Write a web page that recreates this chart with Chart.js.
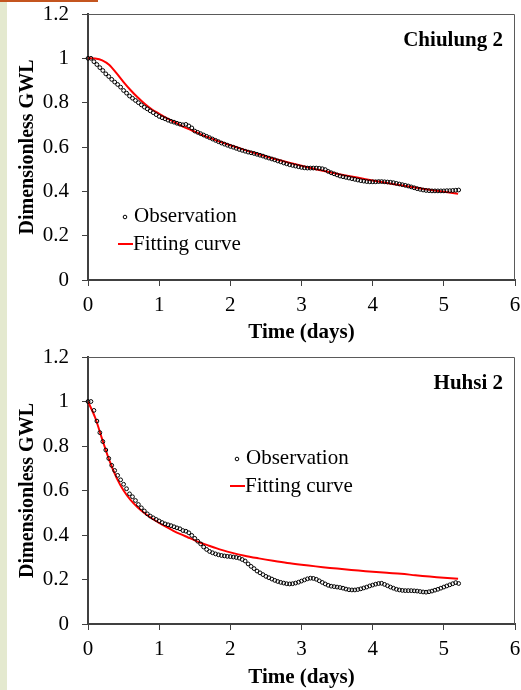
<!DOCTYPE html>
<html>
<head>
<meta charset="utf-8">
<script src="https://cdn.jsdelivr.net/npm/chart.js@4.4.0/dist/chart.umd.min.js"></script>
<style>
  html, body { margin: 0; padding: 0; background: #fff; width: 521px; height: 690px; overflow: hidden; }
  #strip { position: absolute; left: 0; top: 0; width: 7px; height: 690px; background: #e4e9cf; }
  #bar { position: absolute; left: 0; top: 0; width: 98px; height: 2px; background: #c4551f; }
  .panel { position: absolute; left: 0; width: 521px; height: 345px; }
  .panel canvas { display: block; }
</style>
</head>
<body>
<div id="strip"></div>
<div id="bar"></div>
<div class="panel" style="top:0"><canvas id="c1" width="521" height="345"></canvas></div>
<div class="panel" style="top:345px"><canvas id="c2" width="521" height="345"></canvas></div>
<script>
// Hourly observations (one value per hour, starting at day 0)
const SAMPLES_PER_DAY = 24;

const chiulungObs = [
  1.000, 1.000, 0.985, 0.972, 0.958, 0.945, 0.930, 0.918, 0.905, 0.893, 0.882, 0.870,
  0.855, 0.843, 0.830, 0.820, 0.810, 0.800, 0.790, 0.780, 0.772, 0.763, 0.755, 0.746,
  0.738, 0.732, 0.727, 0.721, 0.716, 0.712, 0.707, 0.703, 0.700, 0.702, 0.695, 0.686,
  0.672, 0.666, 0.660, 0.654, 0.648, 0.642, 0.636, 0.630, 0.624, 0.618, 0.613, 0.608,
  0.603, 0.599, 0.594, 0.589, 0.585, 0.581, 0.577, 0.574, 0.571, 0.567, 0.563, 0.559,
  0.554, 0.550, 0.546, 0.542, 0.537, 0.533, 0.528, 0.524, 0.520, 0.517, 0.514, 0.511,
  0.508, 0.506, 0.505, 0.505, 0.505, 0.505, 0.504, 0.502, 0.498, 0.490, 0.484, 0.479,
  0.474, 0.469, 0.466, 0.463, 0.460, 0.457, 0.454, 0.451, 0.448, 0.446, 0.444, 0.443,
  0.443, 0.443, 0.444, 0.444, 0.443, 0.442, 0.441, 0.439, 0.436, 0.433, 0.430, 0.427,
  0.424, 0.420, 0.416, 0.412, 0.409, 0.406, 0.404, 0.403, 0.402, 0.402, 0.402, 0.402,
  0.402, 0.403, 0.403, 0.404, 0.405, 0.406
];

const chiulungFitDays = [0, 0.1, 0.2, 0.3, 0.4, 0.5, 0.6, 0.7, 0.8, 0.9, 1.0, 1.1, 1.2, 1.3, 1.4, 1.5, 1.6, 1.7, 1.8, 1.9,
  2.0, 2.2, 2.4, 2.6, 2.8, 3.0, 3.2, 3.4, 3.6, 3.8, 4.0, 4.2, 4.4, 4.6, 4.8, 5.0, 5.2];
const chiulungFit = [1.000, 0.999, 0.991, 0.970, 0.933, 0.893, 0.856, 0.823, 0.794, 0.769, 0.750, 0.731, 0.714, 0.698,
  0.683, 0.669, 0.655, 0.642, 0.630, 0.619, 0.608, 0.587, 0.567, 0.548, 0.531, 0.515, 0.500, 0.486, 0.473, 0.461,
  0.449, 0.438, 0.427, 0.417, 0.407, 0.398, 0.389];

const huhsiObs = [
  1.000, 1.000, 0.960, 0.912, 0.860, 0.820, 0.782, 0.744, 0.713, 0.690, 0.668, 0.648,
  0.628, 0.608, 0.585, 0.572, 0.555, 0.537, 0.522, 0.508, 0.495, 0.485, 0.477, 0.470,
  0.463, 0.456, 0.450, 0.446, 0.442, 0.437, 0.432, 0.428, 0.420, 0.417, 0.410, 0.398,
  0.385, 0.372, 0.360, 0.346, 0.335, 0.326, 0.320, 0.315, 0.311, 0.308, 0.306, 0.304,
  0.303, 0.301, 0.299, 0.296, 0.290, 0.283, 0.270, 0.259, 0.249, 0.238, 0.230, 0.222,
  0.214, 0.208, 0.202, 0.196, 0.191, 0.187, 0.184, 0.181, 0.180, 0.181, 0.184, 0.188,
  0.193, 0.198, 0.203, 0.206, 0.205, 0.201, 0.194, 0.187, 0.180, 0.174, 0.170, 0.168,
  0.166, 0.164, 0.161, 0.157, 0.154, 0.153, 0.153, 0.155, 0.158, 0.162, 0.166, 0.171,
  0.175, 0.179, 0.182, 0.183, 0.178, 0.172, 0.166, 0.161, 0.156, 0.153, 0.151, 0.150,
  0.150, 0.150, 0.149, 0.148, 0.146, 0.144, 0.143, 0.145, 0.148, 0.152, 0.156, 0.161,
  0.166, 0.171, 0.176, 0.181, 0.186, 0.182
];

const huhsiFitDays = [0, 0.1, 0.2, 0.3, 0.4, 0.5, 0.6, 0.7, 0.8, 0.9, 1.0, 1.1, 1.2, 1.3, 1.4, 1.5, 1.6, 1.7, 1.8, 1.9,
  2.0, 2.2, 2.4, 2.6, 2.8, 3.0, 3.2, 3.4, 3.6, 3.8, 4.0, 4.2, 4.4, 4.6, 4.8, 5.0, 5.2];
const huhsiFit = [1.000, 0.928, 0.830, 0.735, 0.658, 0.600, 0.557, 0.524, 0.497, 0.474, 0.454, 0.436, 0.419, 0.404,
  0.390, 0.376, 0.363, 0.352, 0.341, 0.331, 0.322, 0.307, 0.295, 0.284, 0.274, 0.266, 0.259, 0.252, 0.246, 0.240,
  0.235, 0.230, 0.226, 0.219, 0.213, 0.208, 0.203];

const xTicks = { min: 0, max: 6, step: 1 };
const yTicks = { min: 0, max: 1.2, step: 0.2 };

const SERIF = '"Liberation Serif", "Times New Roman", serif';
const AXIS = '#404040';

// Panel caption (top-right) and the hand-placed legend
const annotate = {
  id: 'annotate',
  afterDraw(chart, args, opts) {
    const ctx = chart.ctx;
    const a = chart.chartArea;
    ctx.save();
    // frame on the top and right sides of the plot area
    ctx.strokeStyle = '#5a5a5a';
    ctx.lineWidth = 1;
    ctx.beginPath();
    ctx.moveTo(a.left, a.top + 0.5);
    ctx.lineTo(a.right - 0.5, a.top + 0.5);
    ctx.lineTo(a.right - 0.5, a.bottom);
    ctx.stroke();

    ctx.fillStyle = '#000';
    ctx.font = 'bold 21px ' + SERIF;
    ctx.textAlign = 'right';
    ctx.textBaseline = 'alphabetic';
    ctx.fillText(opts.caption, a.right - 12, a.top + 32);

    const lx = opts.legendX, ly = opts.legendY;
    ctx.font = '21px ' + SERIF;
    ctx.textAlign = 'left';
    ctx.textBaseline = 'middle';
    ctx.beginPath();
    ctx.arc(lx + 7, ly + 1, 1.8, 0, Math.PI * 2);
    ctx.strokeStyle = '#000';
    ctx.lineWidth = 1;
    ctx.stroke();
    ctx.fillText('Observation', lx + 16, ly);

    ctx.beginPath();
    ctx.moveTo(lx, ly + 28);
    ctx.lineTo(lx + 15, ly + 28);
    ctx.strokeStyle = '#ff0000';
    ctx.lineWidth = 2;
    ctx.stroke();
    ctx.fillText('Fitting curve', lx + 15, ly + 28);
    ctx.restore();
  }
};

function makeChart(id, p) {
  return new Chart(document.getElementById(id), {
    type: 'line',
    data: {
      datasets: [
        {
          label: 'Observation',
          data: p.obs.map((v, i) => ({ x: i / SAMPLES_PER_DAY, y: v })),
          showLine: false,
          pointRadius: 1.9,
          pointBorderWidth: 1,
          pointBorderColor: '#000',
          pointBackgroundColor: 'rgba(0,0,0,0)',
          clip: false,
          order: 0
        },
        {
          label: 'Fitting curve',
          data: p.fitDays.map((d, i) => ({ x: d, y: p.fit[i] })),
          borderColor: '#ff0000',
          borderWidth: 2,
          pointRadius: 0,
          fill: false,
          tension: 0.3,
          order: 1
        }
      ]
    },
    options: {
      animation: false,
      responsive: false,
      events: [],
      layout: { padding: { left: 0, right: 6, top: p.top, bottom: 0 } },
      plugins: {
        legend: { display: false },
        tooltip: { enabled: false },
        annotate: { caption: p.caption, legendX: p.legendX, legendY: p.legendY }
      },
      scales: {
        x: {
          type: 'linear',
          min: xTicks.min, max: xTicks.max,
          ticks: { stepSize: xTicks.step, padding: 7, color: '#000', font: { family: SERIF, size: 21 } },
          grid: { drawOnChartArea: false, drawTicks: true, tickLength: 6, tickColor: AXIS, tickWidth: 1 },
          border: { color: AXIS, width: 2 },
          title: { display: true, text: 'Time (days)', color: '#000',
                   font: { family: SERIF, size: 21, weight: 'bold' }, padding: { top: 0, bottom: 0 } },
          afterFit(s) { s.height = p.xHeight; s.paddingLeft = 0; s.paddingRight = 0; }
        },
        y: {
          type: 'linear',
          min: yTicks.min, max: yTicks.max,
          ticks: { stepSize: yTicks.step, padding: 13, color: '#000', font: { family: SERIF, size: 21 },
                   callback: v => String(Math.round(v * 10) / 10) },
          grid: { drawOnChartArea: false, drawTicks: true, tickLength: 6, tickColor: AXIS, tickWidth: 1 },
          border: { color: AXIS, width: 2 },
          title: { display: true, text: 'Dimensionless GWL', color: '#000',
                   font: { family: SERIF, size: 20, weight: 'bold' }, padding: { top: 15.5, bottom: 0 } },
          afterFit(s) { s.width = 88; s.paddingTop = 0; s.paddingBottom = 0; }
        }
      }
    },
    plugins: [annotate]
  });
}

makeChart('c1', { obs: chiulungObs, fitDays: chiulungFitDays, fit: chiulungFit, caption: 'Chiulung 2',
                  top: 14, xHeight: 65, legendX: 118, legendY: 216 });
makeChart('c2', { obs: huhsiObs, fitDays: huhsiFitDays, fit: huhsiFit, caption: 'Huhsi 2',
                  top: 12, xHeight: 66, legendX: 230, legendY: 113 });
</script>
</body>
</html>
